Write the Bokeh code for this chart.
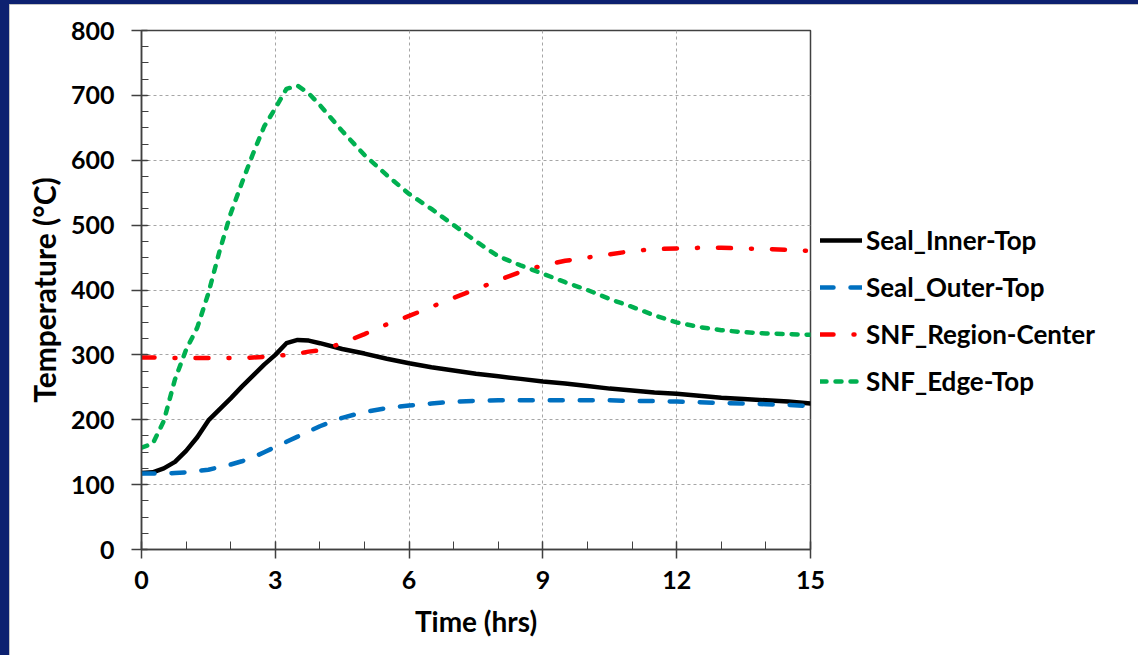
from bokeh.plotting import figure
from bokeh.models import Legend, LegendItem, FixedTicker
from bokeh.embed import file_html
from bokeh.resources import INLINE

# ---- data ----
time_hrs = [0, 0.25, 0.5, 0.75, 1, 1.25, 1.5, 1.75, 2, 2.25, 2.5, 2.75, 3, 3.25, 3.5, 3.75,
            4, 4.5, 5, 5.5, 6, 6.5, 7, 7.5, 8, 8.5, 9, 9.5, 10, 10.5, 11, 11.5, 12, 12.5,
            13, 13.5, 14, 14.5, 15]

seal_inner_top = [118, 119, 125, 135, 152, 173, 199, 216, 233, 251, 268, 285, 300, 318, 323, 322,
                  318, 309, 302, 294, 287, 281, 276, 271, 267, 263, 259, 256, 252, 248, 245, 242,
                  240, 237, 234, 232, 230, 228, 225]

seal_outer_top = [117, 117, 117, 118, 119, 121, 123, 127, 131, 136, 142, 150, 158, 166, 174, 182,
                  190, 203, 212, 218, 222, 225, 228, 229, 230, 230, 230, 230, 230, 230, 229, 229,
                  228, 227, 226, 225, 224, 223, 221]

snf_region_center = [296, 296, 295, 295, 295, 295, 295, 295, 295, 295, 296, 297, 298, 300, 302, 305,
                     307, 318, 332, 347, 360, 374, 388, 401, 415, 428, 438, 445, 450, 455, 460, 463,
                     464, 465, 465, 464, 463, 462, 460]

snf_edge_top = [157, 163, 198, 262, 308, 342, 395, 460, 518, 565, 610, 652, 680, 710, 715, 703,
                685, 645, 608, 577, 548, 525, 500, 475, 452, 438, 425, 412, 400, 386, 374, 361,
                350, 343, 338, 335, 333, 332, 331]

series_names = ["Seal_Inner-Top", "Seal_Outer-Top", "SNF_Region-Center", "SNF_Edge-Top"]
series_colors = ["#000000", "#0070c0", "#ff0000", "#00b050"]

x_ticks = [0, 3, 6, 9, 12, 15]
y_ticks = [0, 100, 200, 300, 400, 500, 600, 700, 800]

FONT = "Lato"

p = figure(frame_width=669, frame_height=519, output_backend="svg", toolbar_location=None,
           x_range=(0, 15), y_range=(0, 800),
           min_border_left=132, min_border_right=0, min_border_top=26, min_border_bottom=106)

p.styles = {"border-left": "9px solid #0d2170", "border-top": "4px solid #0d2170",
            "box-shadow": "inset 2px 2px 0 #b0b0b0"}

p.background_fill_color = "white"
p.border_fill_color = "white"
p.outline_line_color = "#404040"
p.outline_line_width = 1.5

r1 = p.line(time_hrs, seal_inner_top, line_color=series_colors[0], line_width=4.5,
            line_join="round", line_cap="round")
r2 = p.line(time_hrs, seal_outer_top, line_color=series_colors[1], line_width=4.5,
            line_dash="13 17", line_cap="round", line_join="round")
r3 = p.line(time_hrs, snf_region_center, line_color=series_colors[2], line_width=4.5,
            line_dash="13 20 1 20", line_cap="round", line_join="round")
r4 = p.line(time_hrs, snf_edge_top, line_color=series_colors[3], line_width=4.5,
            line_dash="6 9", line_cap="round", line_join="round")

# axes
p.xaxis.ticker = FixedTicker(ticks=x_ticks, minor_ticks=list(range(0, 16)))
p.yaxis.ticker = FixedTicker(ticks=y_ticks, minor_ticks=list(range(0, 801, 25)))
for ax in (p.xaxis[0], p.yaxis[0]):
    ax.axis_line_color = "#404040"
    ax.axis_line_width = 1.5
    ax.major_tick_line_color = "#404040"
    ax.major_tick_line_width = 1.5
    ax.minor_tick_line_color = "#404040"
    ax.minor_tick_line_width = 1
    ax.major_label_text_font = FONT
    ax.major_label_text_font_style = "bold"
    ax.major_label_text_font_size = "25px"
    ax.major_label_text_color = "#000000"
    ax.axis_label_text_font = FONT
    ax.axis_label_text_font_style = "bold"
    ax.axis_label_text_color = "#000000"

p.xaxis.axis_label = "Time (hrs)"
p.yaxis.axis_label = "Temperature (°C)"
p.xaxis.axis_label_text_font_size = "28px"
p.yaxis.axis_label_text_font_size = "30px"
p.xaxis.major_tick_in = 8
p.xaxis.major_tick_out = 9
p.xaxis.minor_tick_in = 8
p.xaxis.minor_tick_out = 0
p.yaxis.major_tick_in = 6
p.yaxis.major_tick_out = 10
p.yaxis.minor_tick_in = 7
p.yaxis.minor_tick_out = 0
p.xaxis.major_label_standoff = 12
p.yaxis.major_label_standoff = 17
p.xaxis.axis_label_standoff = 12
p.yaxis.axis_label_standoff = 6

# grid
for g in (p.xgrid[0], p.ygrid[0]):
    g.grid_line_color = "#a6a6a6"
    g.grid_line_dash = "3 3"
    g.grid_line_width = 1

# legend (outside the frame, on the right)
legend = Legend(items=[LegendItem(label=n, renderers=[r]) for n, r in zip(series_names, [r1, r2, r3, r4])],
                location=(10, 152))
legend.label_text_font = FONT
legend.label_text_font_style = "bold"
legend.label_text_font_size = "26px"
legend.label_text_color = "#000000"
legend.glyph_width = 42
legend.glyph_height = 24
legend.label_height = 24
legend.spacing = 15
legend.padding = 0
legend.margin = 0
legend.label_standoff = 4
legend.border_line_color = None
legend.background_fill_alpha = 0
p.add_layout(legend, "right")

open("out.html", "w").write(file_html(p, INLINE))
